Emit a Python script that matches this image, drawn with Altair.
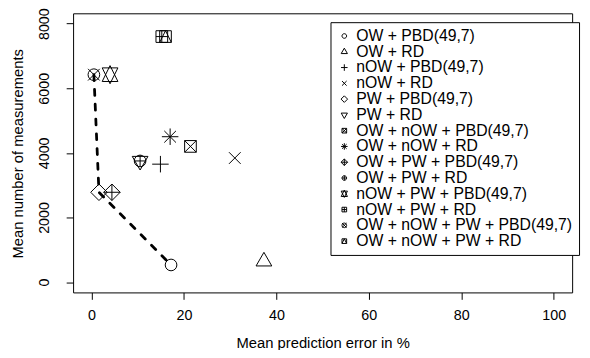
import altair as alt
import pandas as pd

# ---- data ----
labels = [
    "OW + PBD(49,7)",
    "OW + RD",
    "nOW + PBD(49,7)",
    "nOW + RD",
    "PW + PBD(49,7)",
    "PW + RD",
    "OW + nOW + PBD(49,7)",
    "OW + nOW + RD",
    "OW + PW + PBD(49,7)",
    "OW + PW + RD",
    "nOW + PW + PBD(49,7)",
    "nOW + PW + RD",
    "OW + nOW + PW + PBD(49,7)",
    "OW + nOW + PW + RD",
]
err = [17.2, 37.3, 14.9, 31.0, 1.6, 10.5, 21.4, 17.0, 4.4, 10.5, 4.0, 15.2, 0.5, 16.0]
meas = [530, 640, 3650, 3840, 2780, 3750, 4200, 4500, 2780, 3750, 6420, 7600, 6420, 7600]

front = ["OW + nOW + PW + PBD(49,7)", "PW + PBD(49,7)", "OW + PBD(49,7)"]

x_ticks = [0, 20, 40, 60, 80, 100]
y_ticks = [0, 2000, 4000, 6000, 8000]

# ---- R-like plotting symbols (pch 1..14) as SVG paths ----
CIRC = "M1,0A1,1 0 1,1 -1,0A1,1 0 1,1 1,0Z"
SQ = "M-1,-1L1,-1L1,1L-1,1Z"
X1 = "M-1,-1L1,1M-1,1L1,-1"
P1 = "M-1,0L1,0M0,-1L0,1"
P2 = "M-1.414,0L1.414,0M0,-1.414L0,1.414"
DIA = "M0,-1.414L1.414,0L0,1.414L-1.414,0Z"
shapes = [
    CIRC,
    "M0,-1.555L1.347,0.778L-1.347,0.778Z",
    P2,
    X1,
    DIA,
    "M0,1.555L1.347,-0.778L-1.347,-0.778Z",
    SQ + X1,
    X1 + P2,
    DIA + P2,
    CIRC + P1,
    "M0,-1.555L1.347,1.166L-1.347,1.166ZM0,1.555L1.347,-1.166L-1.347,-1.166Z",
    SQ + P1,
    CIRC + X1,
    SQ + "M-1,1L0,-1L1,1",
]

df = pd.DataFrame({"label": labels, "err": err, "meas": meas})
front_df = df[df["label"].isin(front)].sort_values("err")

FONT = "Liberation Sans"
FS = 14.5
TFS = 15

x_enc = alt.X(
    "err:Q",
    scale=alt.Scale(domain=[-4, 104], nice=False, zero=False),
    axis=alt.Axis(
        values=x_ticks,
        title="Mean prediction error in %",
        grid=False,
        domain=False,
        tickColor="black",
        tickSize=7,
        labelFont=FONT,
        labelFontSize=FS,
        labelColor="black",
        labelPadding=9,
        labelBaseline="top",
        titleFont=FONT,
        titleFontSize=TFS,
        titleFontWeight="normal",
        titleColor="black",
        titleX=253,
        titleY=56,
        titleBaseline="alphabetic",
    ),
)
y_enc = alt.Y(
    "meas:Q",
    scale=alt.Scale(domain=[-320, 8320], nice=False, zero=False),
    axis=alt.Axis(
        values=y_ticks,
        format="d",
        title="Mean number of measurements",
        grid=False,
        domain=False,
        tickColor="black",
        tickSize=7,
        labelFont=FONT,
        labelFontSize=FS,
        labelColor="black",
        labelAngle=-90,
        labelAlign="center",
        labelBaseline="bottom",
        labelPadding=15,
        titleFont=FONT,
        titleFontSize=TFS,
        titleFontWeight="normal",
        titleColor="black",
        titleAngle=-90,
        titleX=-51,
        titleY=142,
        titleBaseline="alphabetic",
    ),
)

points = alt.Chart(df).mark_point(
    filled=False, color="black", strokeWidth=1, size=140, opacity=1
).encode(
    x=x_enc,
    y=y_enc,
    shape=alt.Shape(
        "label:N",
        sort=labels,
        scale=alt.Scale(domain=labels, range=shapes),
        legend=alt.Legend(
            title=None,
            orient="none",
            legendX=261,
            legendY=9,
            strokeColor="black",
            fillColor="white",
            padding=6,
            rowPadding=-1.9,
            labelFont=FONT,
            labelFontSize=16,
            labelColor="black",
            labelOffset=4,
            symbolOffset=0,
            labelLimit=400,
            symbolSize=22,
            symbolStrokeColor="black",
            symbolStrokeWidth=1,
        ),
    ),
)

line = alt.Chart(front_df).mark_line(
    color="black", strokeWidth=2.8, strokeDash=[6, 9], strokeCap="round"
).encode(x=x_enc, y=y_enc)

chart = (
    alt.layer(points, line)
    .properties(
        width=506,
        height=283,
        padding={"left": 66, "top": 3, "right": 10, "bottom": 56},
        autosize=alt.AutoSizeParams(type="none"),
        background="white",
    )
    .configure_view(stroke="black", strokeWidth=1)
)

chart.save("out.html", embed_options={"renderer": "svg", "actions": False})
